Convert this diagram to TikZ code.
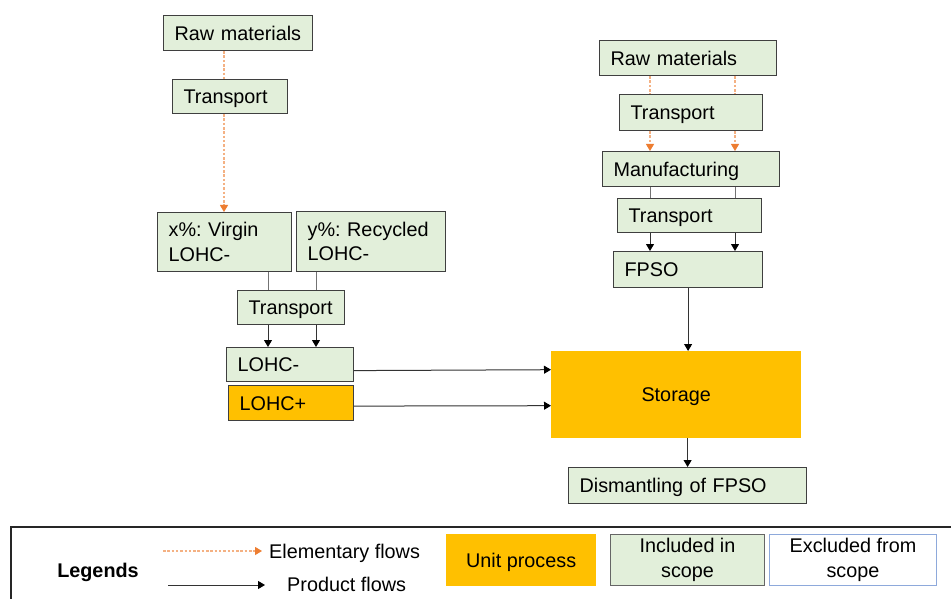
\documentclass[tikz,border=0pt]{standalone}
\usepackage{fontspec}
\setmainfont{Liberation Sans}
\frenchspacing
\usetikzlibrary{arrows.meta}
\definecolor{scopegreen}{HTML}{E2EFDA}
\definecolor{unitorange}{HTML}{FFC000}
\definecolor{edgegray}{HTML}{3F3F3F}
\definecolor{elemline}{HTML}{F4B183}
\definecolor{elemtip}{HTML}{ED7D31}
\definecolor{outblue}{HTML}{8EA9DB}
\tikzset{
  lbl/.style={font=\fontsize{19.8}{24.5}\selectfont},
  oneline/.style={text height=15pt, text depth=1pt},
  box/.style 2 args={lbl, draw=edgegray, line width=1.2pt, fill=scopegreen,
    anchor=north west, inner xsep=11pt, inner ysep=0pt, align=left,
    minimum width=#1pt, minimum height=#2pt, text width=#1pt-22pt},
  unitbox/.style 2 args={lbl, oneline, fill=unitorange, anchor=north west, inner sep=0pt,
    align=center, minimum width=#1pt, minimum height=#2pt},
  legbox/.style 2 args={lbl, anchor=north west, inner sep=0pt, align=center,
    minimum width=#1pt, minimum height=#2pt},
  elem/.style={draw=elemline, line width=1.1pt, dash pattern=on 2.5pt off 1.8pt},
  elemarrow/.style={elem, -{Triangle[width=8pt,length=7pt,color=elemtip]}},
  link/.style={draw=black!55, line width=1pt},
  flow/.style={draw=black!80, line width=1pt, -{Triangle[width=8pt,length=7pt,color=black]}},
}
\begin{document}
\begin{tikzpicture}[x=1pt,y=-1pt]
\useasboundingbox (0,0) rectangle (951,599);

% column positions of the vertical connectors
\coordinate (cA) at (224,0);
\coordinate (cB) at (268,0);
\coordinate (cC) at (316,0);
\coordinate (cD) at (650,0);
\coordinate (cE) at (735,0);

% LOHC supply chain
\node[box={149}{35}, oneline] (rmL) at (163,15) {Raw materials};
\node[box={115}{34}, oneline] (trL) at (172,79) {Transport};
\node[box={134}{59}] (virgin) at (157,212) {x\%: Virgin\\LOHC-};
\node[box={149}{60}] (recyc) at (296,211) {y\%: Recycled\\LOHC-};
\node[box={107}{34}, oneline] (trM) at (237,290) {Transport};
\node[box={127}{34}, oneline] (lohcm) at (226,347) {LOHC-};
\node[box={125}{35}, oneline, fill=unitorange] (lohcp) at (228,385) {LOHC+};

% FPSO chain
\node[box={177}{35}, oneline] (rmR) at (599,40) {Raw materials};
\node[box={143}{36}, oneline] (trR1) at (619,94) {Transport};
\node[box={177}{35}, oneline] (manuf) at (602,151) {Manufacturing};
\node[box={144}{34}, oneline] (trR2) at (617,198) {Transport};
\node[box={149}{36}, oneline] (fpso) at (613,251) {FPSO};
\node[unitbox={250}{87}] (storage) at (551,351) {Storage};
\node[box={238}{36}, oneline] (dism) at (568,467) {Dismantling of FPSO};

% elementary flows
\draw[elem] (rmL.south -| cA) -- (trL.north -| cA);
\draw[elemarrow] (trL.south -| cA) -- (virgin.north -| cA);
\draw[elem] (rmR.south -| cD) -- (trR1.north -| cD);
\draw[elem] (rmR.south -| cE) -- (trR1.north -| cE);
\draw[elemarrow] (trR1.south -| cD) -- (manuf.north -| cD);
\draw[elemarrow] (trR1.south -| cE) -- (manuf.north -| cE);

% product flows
\draw[link] (virgin.south -| cB) -- (trM.north -| cB);
\draw[link] (recyc.south -| cC) -- (trM.north -| cC);
\draw[flow] (trM.south -| cB) -- (lohcm.north -| cB);
\draw[flow] (trM.south -| cC) -- (lohcm.north -| cC);
\draw[link] (manuf.south -| cD) -- (trR2.north -| cD);
\draw[link] (manuf.south -| cE) -- (trR2.north -| cE);
\draw[flow] (trR2.south -| cD) -- (fpso.north -| cD);
\draw[flow] (trR2.south -| cE) -- (fpso.north -| cE);
\draw[flow] (fpso.south) -- (storage.north -| fpso.south);
\draw[flow] ([yshift=-6pt]lohcm.east) -- ([yshift=25pt]storage.west);
\draw[flow] ([yshift=-3pt]lohcp.east) -- ([yshift=-11pt]storage.west);
\draw[flow] (storage.south -| dism.north) -- (dism.north);

% legend
\draw[draw=black!85, line width=1.3pt] (11,527) rectangle (965,615);
\node[lbl, oneline, font=\fontsize{19.8}{24.5}\selectfont\bfseries] (legtitle) at (98,570) {Legends};
\coordinate (e1) at (163,551);
\coordinate (e2) at (262,551);
\draw[elemarrow] (e1) -- (e2);
\node[lbl, oneline, anchor=west, inner sep=0pt] (elemtxt) at (269,551) {Elementary flows};
\coordinate (p1) at (168,585);
\coordinate (p2) at (265,585);
\draw[flow] (p1) -- (p2);
\node[lbl, oneline, anchor=west, inner sep=0pt] (prodtxt) at (287,584) {Product flows};
\node[unitbox={150}{52}] (legunit) at (446,534) {Unit process};
\node[legbox={154}{51}, fill=scopegreen, draw=black!60, line width=1.1pt] (legin) at (610,534) {Included in\\scope};
\node[legbox={167}{51}, fill=white, draw=outblue, line width=1pt] (legout) at (769,534) {Excluded from\\scope};
\end{tikzpicture}
\end{document}
